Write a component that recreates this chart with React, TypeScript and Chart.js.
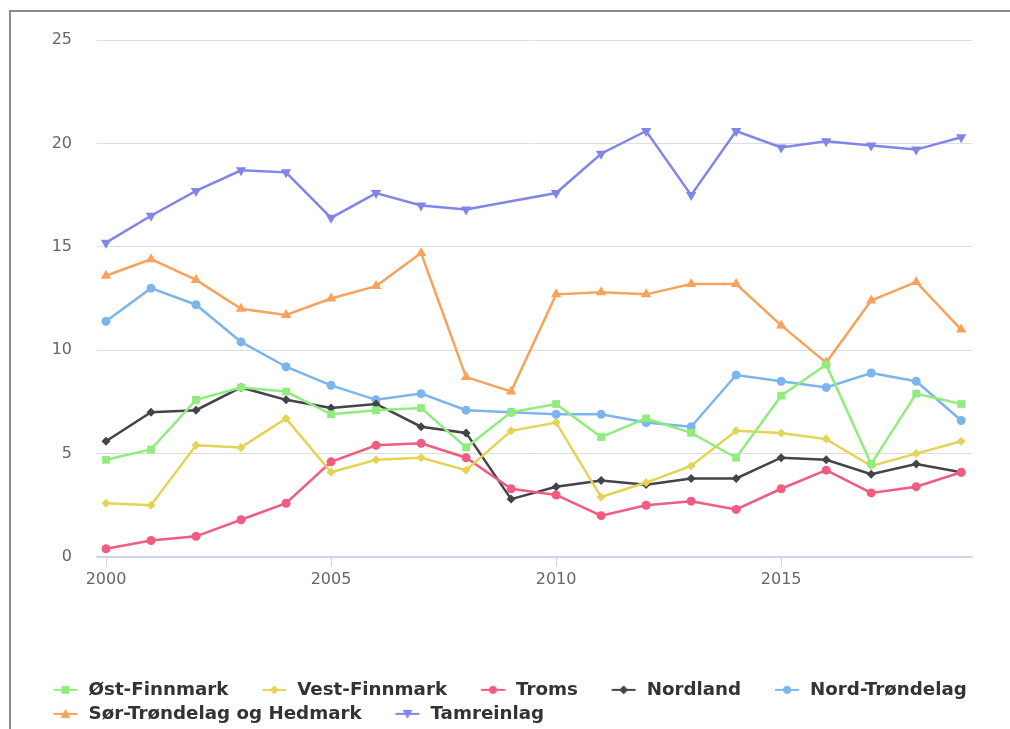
import React, { useEffect, useRef } from 'react';
import { Chart, registerables } from 'chart.js';

Chart.register(...registerables);

const years = [2000, 2001, 2002, 2003, 2004, 2005, 2006, 2007, 2008, 2009, 2010, 2011, 2012, 2013, 2014, 2015, 2016, 2017, 2018, 2019];
const xTickValues = [2000, 2005, 2010, 2015];
const yTickValues = [0, 5, 10, 15, 20, 25];

const ostFinnmark = [4.7, 5.2, 7.6, 8.2, 8.0, 6.9, 7.1, 7.2, 5.3, 7.0, 7.4, 5.8, 6.7, 6.0, 4.8, 7.8, 9.3, 4.5, 7.9, 7.4];
const vestFinnmark = [2.6, 2.5, 5.4, 5.3, 6.7, 4.1, 4.7, 4.8, 4.2, 6.1, 6.5, 2.9, 3.6, 4.4, 6.1, 6.0, 5.7, 4.4, 5.0, 5.6];
const troms = [0.4, 0.8, 1.0, 1.8, 2.6, 4.6, 5.4, 5.5, 4.8, 3.3, 3.0, 2.0, 2.5, 2.7, 2.3, 3.3, 4.2, 3.1, 3.4, 4.1];
const nordland = [5.6, 7.0, 7.1, 8.2, 7.6, 7.2, 7.4, 6.3, 6.0, 2.8, 3.4, 3.7, 3.5, 3.8, 3.8, 4.8, 4.7, 4.0, 4.5, 4.1];
const nordTrondelag = [11.4, 13.0, 12.2, 10.4, 9.2, 8.3, 7.6, 7.9, 7.1, 7.0, 6.9, 6.9, 6.5, 6.3, 8.8, 8.5, 8.2, 8.9, 8.5, 6.6];
const sorTrondelagHedmark = [13.6, 14.4, 13.4, 12.0, 11.7, 12.5, 13.1, 14.7, 8.7, 8.0, 12.7, 12.8, 12.7, 13.2, 13.2, 11.2, 9.4, 12.4, 13.3, 11.0];
const tamreinlag: (number | null)[] = [15.2, 16.5, 17.7, 18.7, 18.6, 16.4, 17.6, 17.0, 16.8, null, 17.6, 19.5, 20.6, 17.5, 20.6, 19.8, 20.1, 19.9, 19.7, 20.3];

const seriesNames = ['Øst-Finnmark', 'Vest-Finnmark', 'Troms', 'Nordland', 'Nord-Trøndelag', 'Sør-Trøndelag og Hedmark', 'Tamreinlag'];
const seriesValues: (number | null)[][] = [ostFinnmark, vestFinnmark, troms, nordland, nordTrondelag, sorTrondelagHedmark, tamreinlag];
const seriesColors = ['#90ed7d', '#e4d354', '#f15c80', '#434348', '#7cb5ec', '#f7a35c', '#8085e9'];
const seriesMarkers = ['rect', 'rectRot', 'circle', 'rectRot', 'circle', 'triangle', 'triangle'];
const seriesRotations = [0, 0, 0, 0, 0, 0, 180];
const seriesRadii = [5.5, 4.5, 4.5, 4.5, 4.5, 6, 6];

const CANVAS_W = 1010;
const CANVAS_H = 740;
const LEGEND_FONT = 18.25;
const LEGEND_PAD = 5.75;
const SYMBOL_W = 54;
const PAD_LEFT = 53.5 - LEGEND_PAD - (SYMBOL_W + LEGEND_FONT / 2 - 35);
const PAD_BOTTOM = 7;
const PLOT_LEFT = 97;
const PLOT_BOTTOM = 557;

function makeSymbol(color: string, marker: string, rotation: number): HTMLCanvasElement {
  const c = document.createElement('canvas');
  c.width = SYMBOL_W;
  c.height = 16;
  const ctx = c.getContext('2d')!;
  const cy = 8;
  const x0 = SYMBOL_W + LEGEND_FONT / 2 - 35;
  const x1 = x0 + 24;
  const cx = (x0 + x1) / 2;
  ctx.strokeStyle = color;
  ctx.fillStyle = color;
  ctx.lineWidth = 2;
  ctx.beginPath();
  ctx.moveTo(x0, cy);
  ctx.lineTo(x1, cy);
  ctx.stroke();
  ctx.beginPath();
  if (marker === 'circle') {
    ctx.arc(cx, cy, 4, 0, Math.PI * 2);
  } else if (marker === 'rect') {
    ctx.rect(cx - 4, cy - 4, 8, 8);
  } else if (marker === 'rectRot') {
    ctx.moveTo(cx, cy - 4.5);
    ctx.lineTo(cx + 4.5, cy);
    ctx.lineTo(cx, cy + 4.5);
    ctx.lineTo(cx - 4.5, cy);
    ctx.closePath();
  } else if (marker === 'triangle') {
    const s = rotation === 180 ? -1 : 1;
    ctx.moveTo(cx, cy - 5 * s);
    ctx.lineTo(cx + 5, cy + 4 * s);
    ctx.lineTo(cx - 5, cy + 4 * s);
    ctx.closePath();
  }
  ctx.fill();
  return c;
}

export default function App() {
  const canvasRef = useRef<HTMLCanvasElement | null>(null);

  useEffect(() => {
    document.body.style.margin = '0';
    const canvas = canvasRef.current;
    if (!canvas) return;

    const datasets = seriesNames.map((name, i) => ({
      label: name,
      data: years.map((x, j) => ({ x, y: seriesValues[i][j] })),
      borderColor: seriesColors[i],
      backgroundColor: seriesColors[i],
      borderWidth: 2.5,
      pointStyle: seriesMarkers[i] as any,
      pointRotation: seriesRotations[i],
      pointRadius: seriesRadii[i],
      pointBorderWidth: 0,
      pointBackgroundColor: seriesColors[i],
      tension: 0,
      spanGaps: true,
      fill: false,
    }));

    const symbols = seriesNames.map((_, i) => makeSymbol(seriesColors[i], seriesMarkers[i], seriesRotations[i]));

    const chart = new Chart(canvas, {
      type: 'line',
      data: { datasets },
      options: {
        animation: false,
        responsive: false,
        events: [],
        layout: { padding: { left: PAD_LEFT, right: 0, top: 40, bottom: PAD_BOTTOM } },
        plugins: {
          tooltip: { enabled: false },
          legend: {
            position: 'bottom',
            align: 'start',
            labels: {
              usePointStyle: true,
              pointStyleWidth: SYMBOL_W,
              padding: LEGEND_PAD,
              color: '#333333',
              font: { family: 'DejaVu Sans', weight: 'bold', size: LEGEND_FONT },
              generateLabels: () =>
                seriesNames.map((name, i) => ({
                  text: name,
                  pointStyle: symbols[i] as any,
                  fillStyle: seriesColors[i],
                  strokeStyle: seriesColors[i],
                  lineWidth: 0,
                  hidden: false,
                  datasetIndex: i,
                  fontColor: '#333333',
                })),
            },
          },
        },
        scales: {
          x: {
            type: 'linear',
            min: years[0] - 0.2,
            max: years[years.length - 1] + 0.24,
            afterBuildTicks: (scale: any) => {
              scale.ticks = xTickValues.map((v) => ({ value: v }));
            },
            afterFit: (scale: any) => {
              scale.height = CANVAS_H - PAD_BOTTOM - scale.chart.legend.height - PLOT_BOTTOM;
            },
            ticks: {
              autoSkip: false,
              maxRotation: 0,
              padding: 3,
              color: '#666666',
              font: { family: 'DejaVu Sans', size: 16 },
              callback: (v: any) => String(v),
            },
            grid: {
              display: true,
              drawOnChartArea: false,
              drawTicks: true,
              tickLength: 10,
              color: '#ccd6eb',
              lineWidth: 1,
            },
            border: { display: true, color: '#ccd6eb', width: 1.5 },
          },
          y: {
            type: 'linear',
            min: yTickValues[0],
            max: yTickValues[yTickValues.length - 1],
            afterBuildTicks: (scale: any) => {
              scale.ticks = yTickValues.map((v) => ({ value: v }));
            },
            afterFit: (scale: any) => {
              scale.width = PLOT_LEFT - PAD_LEFT;
            },
            ticks: {
              padding: 25,
              color: '#666666',
              font: { family: 'DejaVu Sans', size: 16 },
            },
            grid: {
              drawTicks: false,
              color: (ctx: any) => (ctx.tick && ctx.tick.value === 0 ? '#ccd6eb' : '#dedede'),
              lineWidth: 1,
            },
            border: { display: false },
          },
          yRight: {
            type: 'linear',
            position: 'right',
            display: true,
            ticks: { display: false },
            grid: { display: false, drawTicks: false },
            border: { display: false },
            afterFit: (scale: any) => {
              scale.width = 38;
            },
          },
        },
      },
    } as any);

    return () => {
      chart.destroy();
    };
  }, []);

  return (
    <div style={{ position: 'relative', width: CANVAS_W, height: 729, overflow: 'hidden', background: '#ffffff' }}>
      <canvas
        ref={canvasRef}
        width={CANVAS_W}
        height={CANVAS_H}
        style={{ position: 'absolute', left: 0, top: 0, width: CANVAS_W, height: CANVAS_H }}
      />
      <div
        style={{
          position: 'absolute',
          left: 9,
          top: 10,
          width: 1100,
          height: 800,
          borderTop: '2px solid #8c8c8c',
          borderLeft: '2px solid #8c8c8c',
          pointerEvents: 'none',
        }}
      />
    </div>
  );
}
